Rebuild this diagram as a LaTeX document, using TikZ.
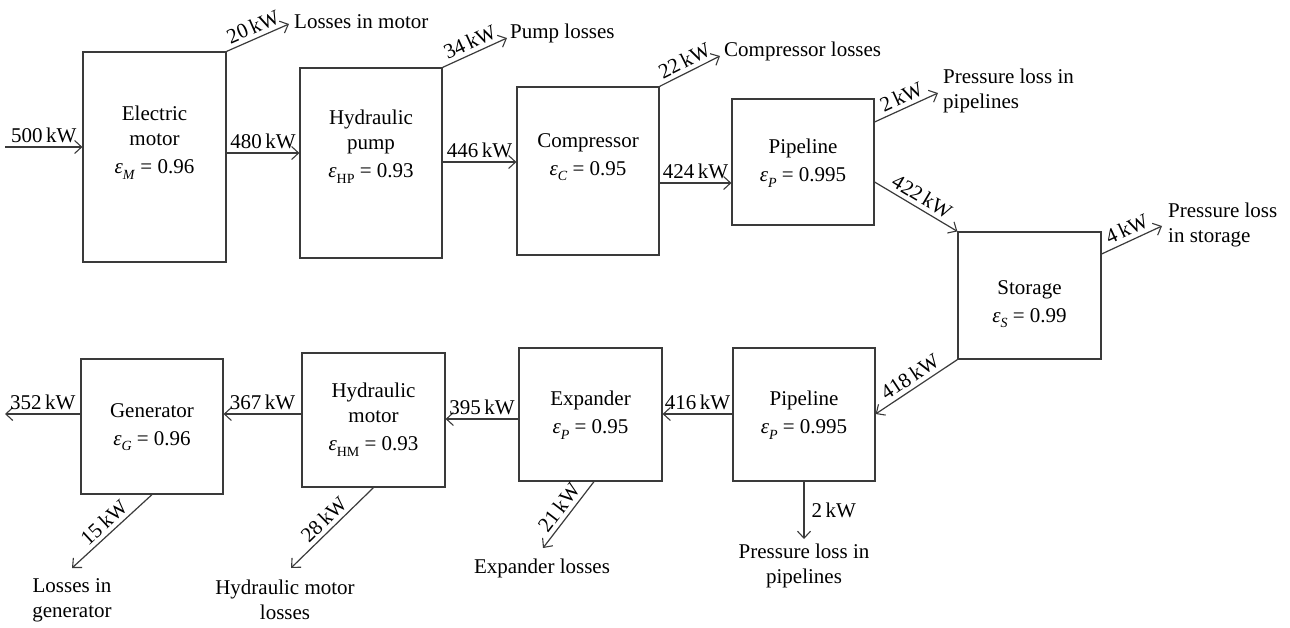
\documentclass[tikz,border=0pt]{standalone}
\usepackage{fontspec}
\setmainfont{Liberation Serif}
\usetikzlibrary{arrows.meta}
\definecolor{linec}{HTML}{3A3A3A}
\newcommand{\fsz}{\fontsize{21}{25}\selectfont}
\newcommand{\epsub}[1]{\textit{ε}\raisebox{-0.28em}{\fontsize{14}{14}\selectfont #1}}
\begin{document}
\begin{tikzpicture}[x=1pt,y=-1pt,
  box/.style={draw=linec, line width=1.2pt, rectangle, inner sep=0pt},
  txt/.style={align=center, font=\fsz, text=black, inner sep=0pt, anchor=north},
  arr/.style={draw=linec, line width=1.2pt, -{Straight Barb[length=7pt,width=13pt,line width=1.1pt]}},
  val/.style={font=\fsz, inner sep=4pt, text=black},
  lbl/.style={font=\fsz, align=center, inner sep=0pt, text=black}]
\useasboundingbox (0,0) rectangle (1290,627);

% boxes
\node[box, minimum width=143pt, minimum height=210pt] (M)  at (154.5,157) {};
\node[box, minimum width=142pt, minimum height=190pt] (HP) at (371,163) {};
\node[box, minimum width=142pt, minimum height=168pt] (C)  at (588,171) {};
\node[box, minimum width=142pt, minimum height=126pt] (P1) at (803,162) {};
\node[box, minimum width=143pt, minimum height=127pt] (S)  at (1029.5,295.5) {};
\node[box, minimum width=142pt, minimum height=133pt] (P2) at (804,414.5) {};
\node[box, minimum width=143pt, minimum height=133pt] (E)  at (590.5,414.5) {};
\node[box, minimum width=143pt, minimum height=134pt] (HM) at (373.5,420) {};
\node[box, minimum width=142pt, minimum height=135pt] (G)  at (152,426.5) {};

% box texts
\node[txt] (tM)  at (154.5,106) {Electric\\motor\\[3pt]\epsub{\textit{M}} = 0.96};
\node[txt] (tHP) at (371,110) {Hydraulic\\pump\\[3pt]\epsub{HP} = 0.93};
\node[txt] (tC)  at (588,133) {Compressor\\[3pt]\epsub{\textit{C}} = 0.95};
\node[txt] (tP1) at (803,139) {Pipeline\\[3pt]\epsub{\textit{P}} = 0.995};
\node[txt] (tS)  at (1029.5,280) {Storage\\[3pt]\epsub{\textit{S}} = 0.99};
\node[txt] (tP2) at (804,391) {Pipeline\\[3pt]\epsub{\textit{P}} = 0.995};
\node[txt] (tE)  at (590.5,391) {Expander\\[3pt]\epsub{\textit{P}} = 0.95};
\node[txt] (tHM) at (373.5,383) {Hydraulic\\motor\\[3pt]\epsub{HM} = 0.93};
\node[txt] (tG)  at (152,403) {Generator\\[3pt]\epsub{\textit{G}} = 0.96};

% loss texts
\node[lbl, anchor=west] (lM)  at (294,22) {Losses in motor};
\node[lbl, anchor=west] (lHP) at (510,33) {Pump losses};
\node[lbl, anchor=west] (lC)  at (724,51) {Compressor losses};
\node[lbl, anchor=west, align=left] (lP1) at (943,91) {Pressure loss in\\pipelines};
\node[lbl, anchor=west, align=left] (lS)  at (1168,225) {Pressure loss\\in storage};
\node[lbl] (lP2) at (804,566) {Pressure loss in\\pipelines};
\node[lbl] (lE)  at (542,568) {Expander losses};
\node[lbl] (lHM) at (285,600) {Hydraulic motor\\losses};
\node[lbl] (lG)  at (72,600) {Losses in\\generator};

% free ends
\coordinate (in0) at (5,147);
\coordinate (out0) at (5,414);
\coordinate (eM)  at (289,24);
\coordinate (eHP) at (507,38);
\coordinate (eC)  at (720,56);
\coordinate (eP1) at (938,93);
\coordinate (eS)  at (1162,226);
\coordinate (eP2) at (804,539);
\coordinate (eE)  at (543,548);
\coordinate (eHM) at (291,568);
\coordinate (eG)  at (72,568);

% main flow
\draw[arr] (in0) -- node[val,above]{500\,kW} (M.west |- in0);
\draw[arr] (M.east |- 0,153) -- node[val,above]{480\,kW} (HP.west |- 0,153);
\draw[arr] (HP.east |- 0,162) -- node[val,above]{446\,kW} (C.west |- 0,162);
\draw[arr] (C.east |- 0,183) -- node[val,above]{424\,kW} (P1.west |- 0,183);
\draw[arr] (P1.east |- 0,182) -- node[val,above,sloped]{422\,kW} (S.north west);
\draw[arr] (S.south west) -- node[val,above,sloped]{418\,kW} (P2.east |- 0,414);
\draw[arr] (P2.west |- 0,414) -- node[val,above]{416\,kW} (E.east |- 0,414);
\draw[arr] (E.west |- 0,419) -- node[val,above]{395\,kW} (HM.east |- 0,419);
\draw[arr] (HM.west |- 0,414) -- node[val,above]{367\,kW} (G.east |- 0,414);
\draw[arr] (G.west |- out0) -- node[val,above]{352\,kW} (out0);

% losses
\draw[arr] (M.north east) -- node[val,above,sloped]{20\,kW} (eM);
\draw[arr] (HP.north east) -- node[val,above,sloped]{34\,kW} (eHP);
\draw[arr] (C.north east) -- node[val,above,sloped]{22\,kW} (eC);
\draw[arr] (P1.east |- 0,122) -- node[val,above,sloped]{2\,kW} (eP1);
\draw[arr] (S.east |- 0,254) -- node[val,above,sloped]{4\,kW} (eS);
\draw[arr] (P2.south) -- node[val,right,inner sep=7pt]{2\,kW} (eP2);
\draw[arr] (E.south -| 594,0) -- node[val,above,sloped]{21\,kW} (eE);
\draw[arr] (HM.south) -- node[val,above,sloped]{28\,kW} (eHM);
\draw[arr] (G.south) -- node[val,above,sloped]{15\,kW} (eG);
\end{tikzpicture}
\end{document}
